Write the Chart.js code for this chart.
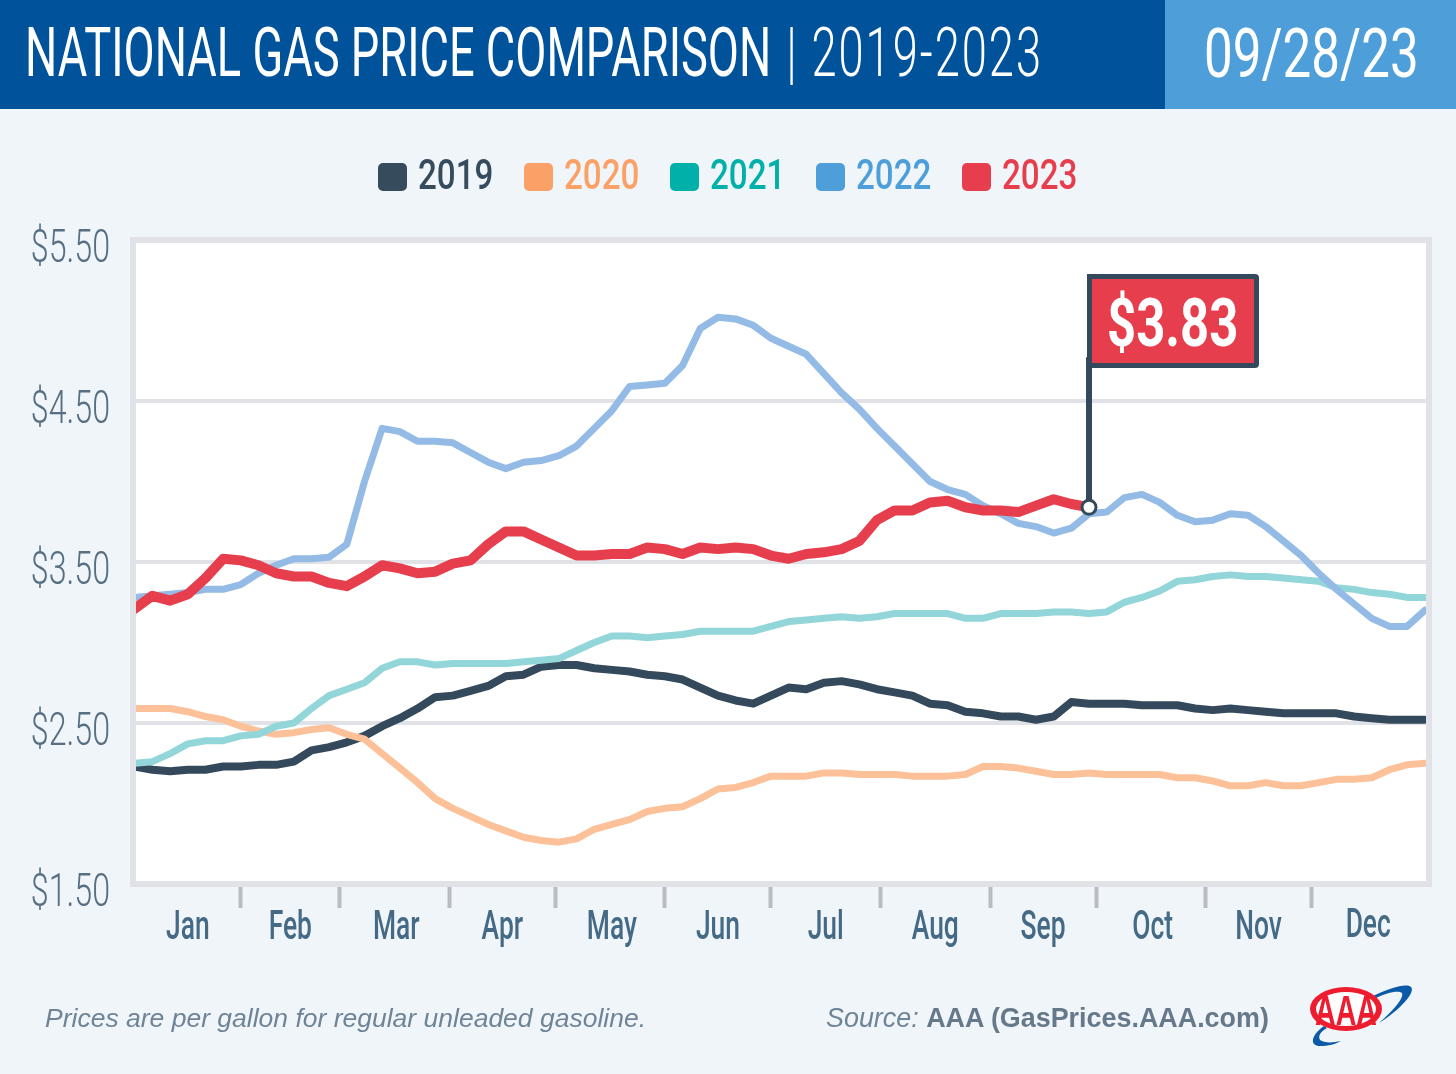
<!DOCTYPE html>
<html>
<head>
<meta charset="utf-8">
<title>National Gas Price Comparison</title>
<script src="https://cdn.jsdelivr.net/npm/chart.js@4"></script>
<style>
    html, body { margin: 0; padding: 0; background: #f0f5fa; overflow: hidden; }
    #page { position: relative; width: 1456px; height: 1074px; overflow: hidden; background: #f0f5fa; font-family: "Liberation Sans", sans-serif; }
    #chart { position: absolute; left: 0; top: 0; }
    .cond { position: absolute; white-space: nowrap; transform-origin: left top; font-family: Roboto, sans-serif; }
    #header { position: absolute; left: 0; top: 0; width: 1165px; height: 109px; background: #00529b; }
    #datebox { position: absolute; left: 1165px; top: 0; width: 291px; height: 109px; background: #4e9fd9; }
    #title { left: 25px; top: 13px; font-size: 68px; line-height: 80px; font-weight: 400; color: #fff; transform: scaleX(0.665); }
    #title .light { font-weight: 300; letter-spacing: 3px; margin-left: 6px; }
    #date { left: 39px; top: 14px; font-size: 68px; line-height: 80px; font-weight: 400; color: #fff; transform: scaleX(0.752); }
    #legend { position: absolute; left: 0; top: 152px; width: 1456px; height: 46px; display: flex; justify-content: center; gap: 30px; }
    .legend-item { display: flex; align-items: center; }
    .legend-box { width: 29px; height: 28px; border-radius: 5px; margin-right: 11px; margin-top: 3px; }
    .legend-text { position: relative; width: 76px; height: 46px; }
    .legend-text .cond { left: 0; top: 0; font-size: 42px; line-height: 46px; font-weight: 500; transform: scaleX(0.79); }
    #flag { position: absolute; box-sizing: border-box; width: 172px; height: 94px; background: #e63e4c; border: 5px solid #34495b; border-radius: 0 4px 4px 0; }
    #flag .cond { left: 15px; top: 8px; font-size: 66px; line-height: 74px; font-weight: 700; color: #fff; transform: scaleX(0.77); }
    .note { position: absolute; top: 1003px; font-size: 26.5px; line-height: 30px; color: #6f8496; white-space: nowrap; font-style: italic; }
    .note b { font-style: normal; color: #66798a; }
    #logo { position: absolute; left: 1300px; top: 978px; }
</style>
</head>
<body>
<div id="page">
    <canvas id="chart" width="1456" height="1074"></canvas>
    <div id="header"><div id="title" class="cond">NATIONAL GAS PRICE COMPARISON <span class="light">| 2019-2023</span></div></div>
    <div id="datebox"><div id="date" class="cond">09/28/23</div></div>
    <div id="legend"></div>
    <div id="flag"><div class="cond">$3.83</div></div>
    <div class="note" style="left:45px">Prices are per gallon for regular unleaded gasoline.</div>
    <div class="note" style="left:826px;font-size:26.9px">Source: <b>AAA (GasPrices.AAA.com)</b></div>
    <svg id="logo" width="120" height="76" viewBox="0 0 120 76">
        <path d="M24 48 C10 58 10 68 20 68 C28 68 36 66 41 63 C32 65 24 65 20 62 C18 58 20 54 27 50 Z" fill="#0a5aa8"/>
        <path d="M73 18 C90 10 106 5 111 9 C116 14 100 32 79 45 C94 32 104 20 102 15 C98 12 86 15 76 20 Z" fill="#0a5aa8"/>
        <ellipse cx="46" cy="31" rx="36" ry="22" fill="#ed1c2e"/>
        <ellipse cx="46" cy="31" rx="30" ry="17" fill="#fff"/>
        <text x="46" y="47" text-anchor="middle" font-family="Liberation Sans" font-weight="700" font-size="42" fill="#ed1c2e" textLength="62" lengthAdjust="spacingAndGlyphs">AAA</text>
    </svg>
</div>

<script>
const series_names = ["2019", "2020", "2021", "2022", "2023"];
const legend_colors = ["#364c5d", "#f9a167", "#00b0a9", "#4e9fd9", "#e63e4c"];
const line_colors = ["#34495b", "#fdc199", "#92d6d9", "#93bbe5", "#e63e4c"];
const line_widths = [8, 7, 7, 7, 10];

const month_labels = ["Jan", "Feb", "Mar", "Apr", "May", "Jun", "Jul", "Aug", "Sep", "Oct", "Nov", "Dec"];
const month_mids = [15, 44, 74, 104, 135, 165, 195.5, 226.5, 257, 288, 318, 349];
const month_starts = [30, 58, 89, 119, 150, 180, 211, 242, 272, 303, 333];
const price_ticks = [1.5, 2.5, 3.5, 4.5, 5.5];

// one reading every 5 days
const days = [0, 5, 10, 15, 20, 25, 30, 35, 40, 45, 50, 55, 60, 65, 70, 75, 80, 85, 90, 95, 100, 105, 110, 115, 120, 125, 130, 135, 140, 145, 150, 155, 160, 165, 170, 175, 180, 185, 190, 195, 200, 205, 210, 215, 220, 225, 230, 235, 240, 245, 250, 255, 260, 265, 270, 275, 280, 285, 290, 295, 300, 305, 310, 315, 320, 325, 330, 335, 340, 345, 350, 355, 360, 365];

const prices_2019 = [2.23, 2.21, 2.20, 2.21, 2.21, 2.23, 2.23, 2.24, 2.24, 2.26, 2.33, 2.35, 2.38, 2.42, 2.48, 2.53, 2.59, 2.66, 2.67, 2.70, 2.73, 2.79, 2.80, 2.85, 2.86, 2.86, 2.84, 2.83, 2.82, 2.80, 2.79, 2.77, 2.72, 2.67, 2.64, 2.62, 2.67, 2.72, 2.71, 2.75, 2.76, 2.74, 2.71, 2.69, 2.67, 2.62, 2.61, 2.57, 2.56, 2.54, 2.54, 2.52, 2.54, 2.63, 2.62, 2.62, 2.62, 2.61, 2.61, 2.61, 2.59, 2.58, 2.59, 2.58, 2.57, 2.56, 2.56, 2.56, 2.56, 2.54, 2.53, 2.52, 2.52, 2.52];
const prices_2020 = [2.59, 2.59, 2.59, 2.57, 2.54, 2.52, 2.48, 2.45, 2.43, 2.44, 2.46, 2.47, 2.43, 2.40, 2.31, 2.22, 2.13, 2.03, 1.97, 1.92, 1.87, 1.83, 1.79, 1.77, 1.76, 1.78, 1.84, 1.87, 1.90, 1.95, 1.97, 1.98, 2.03, 2.09, 2.10, 2.13, 2.17, 2.17, 2.17, 2.19, 2.19, 2.18, 2.18, 2.18, 2.17, 2.17, 2.17, 2.18, 2.23, 2.23, 2.22, 2.20, 2.18, 2.18, 2.19, 2.18, 2.18, 2.18, 2.18, 2.16, 2.16, 2.14, 2.11, 2.11, 2.13, 2.11, 2.11, 2.13, 2.15, 2.15, 2.16, 2.21, 2.24, 2.25];
const prices_2021 = [2.25, 2.26, 2.31, 2.37, 2.39, 2.39, 2.42, 2.43, 2.48, 2.50, 2.59, 2.67, 2.71, 2.75, 2.84, 2.88, 2.88, 2.86, 2.87, 2.87, 2.87, 2.87, 2.88, 2.89, 2.90, 2.95, 3.00, 3.04, 3.04, 3.03, 3.04, 3.05, 3.07, 3.07, 3.07, 3.07, 3.10, 3.13, 3.14, 3.15, 3.16, 3.15, 3.16, 3.18, 3.18, 3.18, 3.18, 3.15, 3.15, 3.18, 3.18, 3.18, 3.19, 3.19, 3.18, 3.19, 3.25, 3.28, 3.32, 3.38, 3.39, 3.41, 3.42, 3.41, 3.41, 3.40, 3.39, 3.38, 3.34, 3.33, 3.31, 3.30, 3.28, 3.28];
const prices_2022 = [3.28, 3.29, 3.30, 3.31, 3.33, 3.33, 3.36, 3.43, 3.48, 3.52, 3.52, 3.53, 3.61, 4.00, 4.33, 4.31, 4.25, 4.25, 4.24, 4.18, 4.12, 4.08, 4.12, 4.13, 4.16, 4.22, 4.33, 4.44, 4.59, 4.60, 4.61, 4.72, 4.95, 5.02, 5.01, 4.97, 4.89, 4.84, 4.79, 4.67, 4.55, 4.45, 4.33, 4.22, 4.11, 4.00, 3.95, 3.92, 3.85, 3.80, 3.74, 3.72, 3.68, 3.71, 3.80, 3.81, 3.90, 3.92, 3.87, 3.79, 3.75, 3.76, 3.80, 3.79, 3.72, 3.63, 3.54, 3.43, 3.33, 3.24, 3.15, 3.10, 3.10, 3.20];
const prices_2023 = [3.21, 3.29, 3.26, 3.30, 3.40, 3.52, 3.51, 3.48, 3.43, 3.41, 3.41, 3.37, 3.35, 3.41, 3.48, 3.46, 3.43, 3.44, 3.49, 3.51, 3.61, 3.69, 3.69, 3.64, 3.59, 3.54, 3.54, 3.55, 3.55, 3.59, 3.58, 3.55, 3.59, 3.58, 3.59, 3.58, 3.54, 3.52, 3.55, 3.56, 3.58, 3.63, 3.76, 3.82, 3.82, 3.87, 3.88, 3.84, 3.82, 3.82, 3.81, 3.85, 3.89, 3.86, 3.84];

const all_prices = [prices_2019, prices_2020, prices_2021, prices_2022, prices_2023];
const last_index = prices_2023.length - 1;

function renderLegend() {
    series_names.forEach((name, i) => {
        let item = document.createElement("div");
        item.className = "legend-item";
        item.innerHTML = '<div class="legend-box" style="background:' + legend_colors[i] + '"></div>' +
            '<div class="legend-text"><div class="cond" style="color:' + legend_colors[i] + '">' + name + '</div></div>';
        document.getElementById("legend").appendChild(item);
    });
}

// the axis font is much narrower than anything installed, so squeeze the scale's own labels
function drawSqueezed(ctx, text, x, y, squeeze, font, color, align) {
    ctx.save();
    ctx.translate(x, y);
    ctx.scale(squeeze, 1);
    ctx.font = font;
    ctx.fillStyle = color;
    ctx.textAlign = align;
    ctx.textBaseline = "middle";
    ctx.fillText(text, 0, 0);
    ctx.restore();
}

const plot_frame = {
    id: "plot_frame",
    beforeDraw(chart) {
        const a = chart.chartArea;
        chart.ctx.fillStyle = "#ffffff";
        chart.ctx.fillRect(a.left, a.top, a.width, a.height);
    },
    beforeDatasetsDraw(chart) {
        // flag pole, goes under the end point of 2023
        const ctx = chart.ctx;
        const x = chart.scales.x.getPixelForValue(days[last_index]);
        const y = chart.scales.y.getPixelForValue(prices_2023[last_index]);
        ctx.save();
        ctx.strokeStyle = "#34495b";
        ctx.lineWidth = 6;
        ctx.beginPath();
        ctx.moveTo(x, y);
        ctx.lineTo(x, y - 150);
        ctx.stroke();
        ctx.restore();
    },
    afterDatasetsDraw(chart) {
        const a = chart.chartArea;
        const ctx = chart.ctx;
        ctx.save();
        ctx.strokeStyle = "#e0e2e7";
        ctx.lineWidth = 6;
        ctx.strokeRect(a.left, a.top, a.width, a.height);
        ctx.restore();
    },
    afterDraw(chart) {
        const ctx = chart.ctx;
        chart.scales.y.ticks.forEach((t) => {
            drawSqueezed(ctx, t.label, 110, chart.scales.y.getPixelForValue(t.value) + 10, 0.7, "300 46px Roboto", "#566f82", "right");
        });
        chart.scales.x.ticks.forEach((t) => {
            if (t.label) {
                let lift = t.label == "Dec" ? 2 : 0;
                drawSqueezed(ctx, t.label, chart.scales.x.getPixelForValue(t.value), 929 - lift, 0.66, "500 40px Roboto", "#456a85", "center");
            }
        });
    }
};

function renderChart() {
    const chart = new Chart(document.getElementById("chart"), {
        type: "line",
        data: {
            datasets: series_names.map((name, i) => ({
                label: name,
                data: all_prices[i].map((p, j) => ({ x: days[j], y: p })),
                borderColor: line_colors[i],
                borderWidth: line_widths[i],
                borderJoinStyle: "round",
                borderCapStyle: "round",
                tension: 0,
                order: 4 - i,
                pointRadius: (c) => (i == 4 && c.dataIndex == last_index) ? 7 : 0,
                pointBackgroundColor: "#ffffff",
                pointBorderColor: "#34495b",
                pointBorderWidth: 3
            }))
        },
        options: {
            responsive: false,
            animation: false,
            layout: { padding: { top: 240, right: 27, bottom: 130, left: 0 } },
            plugins: { legend: { display: false }, tooltip: { enabled: false } },
            scales: {
                x: {
                    type: "linear",
                    min: -0.5,
                    max: 366.2,
                    afterFit: (s) => { s.height = 60; },
                    afterBuildTicks: (s) => {
                        s.ticks = month_starts.concat(month_mids).sort((a, b) => a - b).map((v) => ({ value: v }));
                    },
                    border: { display: false },
                    grid: {
                        drawOnChartArea: false,
                        tickLength: 24,
                        tickWidth: 4,
                        tickColor: (c) => month_starts.includes(c.tick.value) ? "#b9bcc3" : "rgba(0,0,0,0)"
                    },
                    ticks: {
                        display: false,
                        autoSkip: false,
                        maxRotation: 0,
                        callback: (v) => { let i = month_mids.indexOf(v); return i < 0 ? "" : month_labels[i]; }
                    }
                },
                y: {
                    min: 1.5,
                    max: 5.5,
                    afterFit: (s) => { s.width = 133; },
                    afterBuildTicks: (s) => { s.ticks = price_ticks.map((v) => ({ value: v })); },
                    border: { display: false },
                    grid: { color: "#e0e2e7", lineWidth: 4, drawTicks: false },
                    ticks: {
                        display: false,
                        callback: (v) => "$" + v.toFixed(2)
                    }
                }
            }
        },
        plugins: [plot_frame]
    });

    // flag sits on top of its pole
    let flag = document.getElementById("flag");
    flag.style.left = (chart.scales.x.getPixelForValue(days[last_index]) - 2.5) + "px";
    flag.style.top = (chart.scales.y.getPixelForValue(prices_2023[last_index]) - 233) + "px";
}

window.addEventListener("load", () => {
    renderLegend();
    renderChart();
});
</script>
</body>
</html>
